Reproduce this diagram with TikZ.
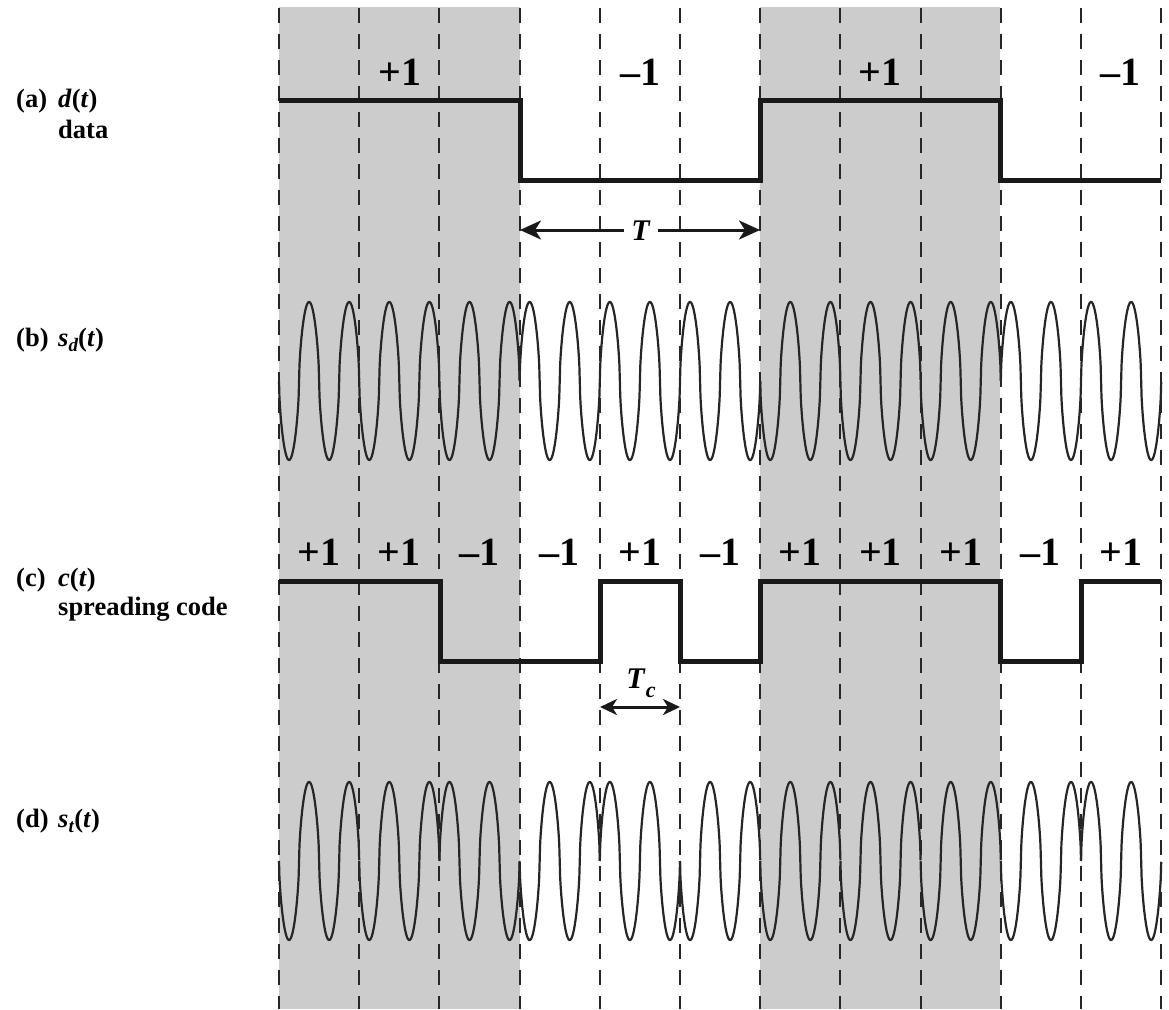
\documentclass[tikz,border=0pt]{standalone}
\usepackage{fontspec}
\setmainfont{Liberation Serif}
\usetikzlibrary{arrows.meta}
\begin{document}
\begin{tikzpicture}[x=1pt,y=-1pt,
  shadebar/.style={fill=black!20, draw=none},
  gridline/.style={draw=black!85, line width=2pt, dash pattern=on 15pt off 11pt},
  sq/.style={draw=black!90, line width=5pt, line join=miter},
  wave/.style={draw=black!85, line width=2.2pt, line join=round},
  dimbig/.style={draw=black!90, line width=3pt, {Stealth[length=21pt,width=19pt,inset=6pt]}-{Stealth[length=21pt,width=19pt,inset=6pt]}},
  dimsmall/.style={draw=black!90, line width=3pt, {Stealth[length=17pt,width=16pt,inset=5pt]}-{Stealth[length=17pt,width=16pt,inset=5pt]}},
  lvl/.style={font=\fontsize{40}{40}\selectfont\bfseries, anchor=base, inner sep=0pt},
  lab/.style={font=\fontsize{26.5}{30}\selectfont\bfseries, anchor=base west, inner sep=0pt},
  tlab/.style={font=\fontsize{30}{30}\selectfont\bfseries, inner sep=0pt}
]
\useasboundingbox (0,0) rectangle (1169,1009);

% shaded data bits
\fill[shadebar] (279,7) rectangle (520,1009);
\fill[shadebar] (760,7) rectangle (1000,1009);

% chip boundaries
\foreach \k in {0,...,11}
  \draw[gridline] ({279+80.2*\k},8) -- ({279+80.2*\k},1009);

% (a) data
\draw[sq] (279,100) -- (520,100) -- (520,180) -- (760,180) -- (760,100)
  -- (1000,100) -- (1000,180) -- (1161,180);
\node[lvl] (da) at (400,85) {+1};
\node[lvl] (db) at (640,85) {\textendash1};
\node[lvl] (dc) at (880,85) {+1};
\node[lvl] (dd) at (1120,85) {\textendash1};

% T arrow
\coordinate (Ta) at (520,230);
\coordinate (Tb) at (760,230);
\draw[dimbig] (Ta) -- (Tb);
\node[tlab, fill=white, inner xsep=7pt, inner ysep=1pt] (T) at (641,231) {\textit{T}};

% (b) s_d(t)
\foreach \k/\p in {0/1,1/1,2/1,3/-1,4/-1,5/-1,6/1,7/1,8/1,9/-1,10/-1}
  \draw[wave] plot[domain=0:80.2, samples=193, variable=\t]
    ({279+80.2*\k+\t}, {381+79*\p*sign(sin(8.97756*\t))*abs(sin(8.97756*\t))^0.6});

% (c) spreading code
\draw[sq] (279,581) -- (440,581) -- (440,661) -- (600,661) -- (600,581)
  -- (680,581) -- (680,661) -- (760,661) -- (760,581) -- (1000,581)
  -- (1000,661) -- (1081,661) -- (1081,581) -- (1161,581);
\foreach \k/\s [count=\i] in {0/+1,1/+1,2/\textendash1,3/\textendash1,4/+1,5/\textendash1,6/+1,7/+1,8/+1,9/\textendash1,10/+1}
  \node[lvl] (c\i) at ({319+80.2*\k},565) {\s};

% Tc arrow
\coordinate (Tca) at (600,707);
\coordinate (Tcb) at (680,707);
\draw[dimsmall] (Tca) -- (Tcb);
\node[tlab, anchor=base] (Tc) at (641,688) {\textit{T}\raisebox{-9pt}{\fontsize{22}{22}\selectfont\textit{c}}};

% (d) s_t(t)
\foreach \k/\p in {0/1,1/1,2/-1,3/1,4/-1,5/1,6/1,7/1,8/1,9/1,10/-1}
  \draw[wave] plot[domain=0:80.2, samples=193, variable=\t]
    ({279+80.2*\k+\t}, {861+79*\p*sign(sin(8.97756*\t))*abs(sin(8.97756*\t))^0.6});

% left labels
\node[lab] (la) at (16,107) {(a)};
\node[lab] (lad) at (58,107) {\textit{d}(\textit{t})};
\node[lab] (lada) at (58,138) {data};
\node[lab] (lb) at (16,346) {(b)};
\node[lab] (lbs) at (58,346) {\textit{s}\raisebox{-5pt}{\fontsize{19}{19}\selectfont\textit{d}}(\textit{t})};
\node[lab] (lc) at (16,586) {(c)};
\node[lab] (lcc) at (58,586) {\textit{c}(\textit{t})};
\node[lab] (lcs) at (58,615) {spreading code};
\node[lab] (ld) at (16,827) {(d)};
\node[lab] (lds) at (58,827) {\textit{s}\raisebox{-5pt}{\fontsize{19}{19}\selectfont\textit{t}}(\textit{t})};
\end{tikzpicture}
\end{document}
